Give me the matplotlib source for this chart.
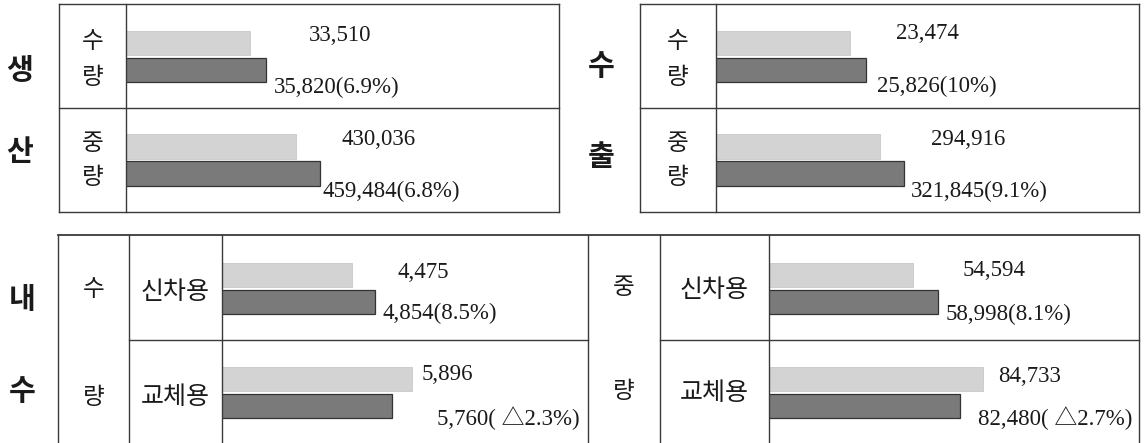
import matplotlib
matplotlib.use("Agg")
import matplotlib.pyplot as plt
from matplotlib.lines import Line2D
from matplotlib.transforms import offset_copy

# ---------------- data ----------------
prod_qty = [33510, 35820]          # 생산 수량 (previous, current)
prod_wt = [430036, 459484]         # 생산 중량
exp_qty = [23474, 25826]           # 수출 수량
exp_wt = [294916, 321845]          # 수출 중량
dom_qty_new = [4475, 4854]         # 내수 수량 신차용
dom_qty_rep = [5896, 5760]         # 내수 수량 교체용
dom_wt_new = [54594, 58998]        # 내수 중량 신차용
dom_wt_rep = [84733, 82480]        # 내수 중량 교체용

changes = ["6.9%", "6.8%", "10%", "9.1%", "8.5%", "△2.3%", "8.1%", "△2.7%"]

side_labels = ["생", "산", "수", "출", "내", "수"]
unit_labels = ["수", "량", "중", "량"]
use_labels = ["신차용", "교체용"]

# ---------------- layout / style ----------------
W, H = 1148, 443
fig = plt.figure(figsize=(W / 100, H / 100), dpi=100)
fig.patch.set_facecolor("white")

NUM_FONT = ["Liberation Serif", "Noto Sans CJK KR", "DejaVu Sans"]
KR_FONT = ["Noto Sans CJK KR", "DejaVu Sans"]
LINE_C = "#3a3a3a"
LIGHT = "#d3d3d3"
DARK = "#7a7a7a"


def fx(x):
    return x / W


def fy(y):
    return 1 - y / H


def line(x0, y0, x1, y1, lw=1.0):
    fig.add_artist(Line2D([fx(x0), fx(x1)], [fy(y0), fy(y1)],
                          transform=fig.transFigure, lw=lw, color=LINE_C))


def ftext(x, y, s, size=17, weight="normal"):
    fig.text(fx(x), fy(y), s, ha="center", va="center", fontsize=size,
             fontweight=weight, family=KR_FONT, color="#1a1a1a")


# ---- table frames ----
# top-left (생산)
line(59, 4, 559, 4); line(59, 212, 559, 212)
line(59, 4, 59, 212); line(559, 4, 559, 212)
line(126, 4, 126, 212); line(59, 108, 559, 108)
# top-right (수출)
line(640, 4, 1139, 4); line(640, 212, 1139, 212)
line(640, 4, 640, 212); line(1139, 4, 1139, 212)
line(716, 4, 716, 212); line(640, 108, 1139, 108)
# bottom (내수)
line(58, 235, 1139, 235, lw=1.3)
for xv in [58, 129, 222, 588, 660, 769, 1139]:
    line(xv, 235, xv, 443)
line(129, 340, 588, 340)
line(660, 340, 1139, 340)

# ---- header texts ----
ftext(20, 70, side_labels[0], 21, "bold")
ftext(20, 152, side_labels[1], 21, "bold")
ftext(601, 66, side_labels[2], 21, "bold")
ftext(601, 157, side_labels[3], 21, "bold")
ftext(22, 299, side_labels[4], 21, "bold")
ftext(22, 391, side_labels[5], 21, "bold")

for cx in [92.5, 678]:
    ftext(cx, 42, unit_labels[0]); ftext(cx, 77, unit_labels[1])
    ftext(cx, 143, unit_labels[2]); ftext(cx, 178, unit_labels[3])

ftext(93.5, 290, unit_labels[0]); ftext(93.5, 398, unit_labels[1])
ftext(624, 288, unit_labels[2]); ftext(624, 392, unit_labels[3])
ftext(175.5, 292, use_labels[0], 18); ftext(175.5, 397, use_labels[1], 18)
ftext(714.5, 290, use_labels[0], 18); ftext(714.5, 393, use_labels[1], 18)

# ---- bar cells ----
# (values, change, axis x-limits, cell box in px, label offsets [(dx,dy) light, (dx,dy) dark])
cells = [
    (prod_qty, changes[0], (15751, 78125), (127, 4, 559, 108), [(59, 7.5), (8, -17.5)]),
    (prod_wt, changes[1], (222674, 752735), (127, 108, 559, 212), [(45, 7), (2, -17.5)]),
    (exp_qty, changes[2], (3924, 65956), (717, 4, 1139, 108), [(46, 9), (11, -17)]),
    (exp_wt, changes[3], (111975, 585600), (717, 108, 1139, 212), [(51, 7), (7, -17.5)]),
    (dom_qty_new, changes[4], (2349, 8363), (223, 236, 588, 340), [(45, 2), (7, -11.5)]),
    (dom_qty_rep, changes[5], (4611, 7092), (223, 340, 588, 445), [(10, 5), (45, -12)]),
    (dom_wt_new, changes[6], (29404, 94404), (770, 236, 1139, 340), [(50, 4.5), (8, -12.5)]),
    (dom_wt_rep, changes[7], (63869, 100014), (770, 340, 1139, 445), [(15, 2), (18, -12.5)]),
]

for vals, chg, xl, (x0, y0, x1, y1), offs in cells:
    ax = fig.add_axes([fx(x0), fy(y1), (x1 - x0) / W, (y1 - y0) / H])
    ax.set_xlim(*xl)
    ax.set_ylim(0, 1)
    ax.axis("off")
    hpx = y1 - y0
    dy = 13.5 / hpx
    bh = 24 / hpx
    ys = [0.5 + dy, 0.5 - dy]
    ax.barh(ys[0], vals[0], height=bh, left=0, color=LIGHT, edgecolor="#c2c2c2", linewidth=0.5)
    ax.barh(ys[1], vals[1], height=bh, left=0, color=DARK, edgecolor="#333333", linewidth=0.9)
    chg_txt = f"( {chg})" if chg.startswith("△") else f"({chg})"
    labels = [f"{vals[0]:,}", f"{vals[1]:,}{chg_txt}"]
    for v, y, lab, (ddx, ddy) in zip(vals, ys, labels, offs):
        tr = offset_copy(ax.transData, fig=fig, x=ddx, y=ddy, units="dots")
        t = ax.text(v, y, lab, transform=tr, ha="left", va="center",
                    fontsize=16.5, family=NUM_FONT, color="#1a1a1a", clip_on=True)
        t.set_clip_box(ax.bbox)

fig.savefig("out.png", dpi=100, facecolor="white")
